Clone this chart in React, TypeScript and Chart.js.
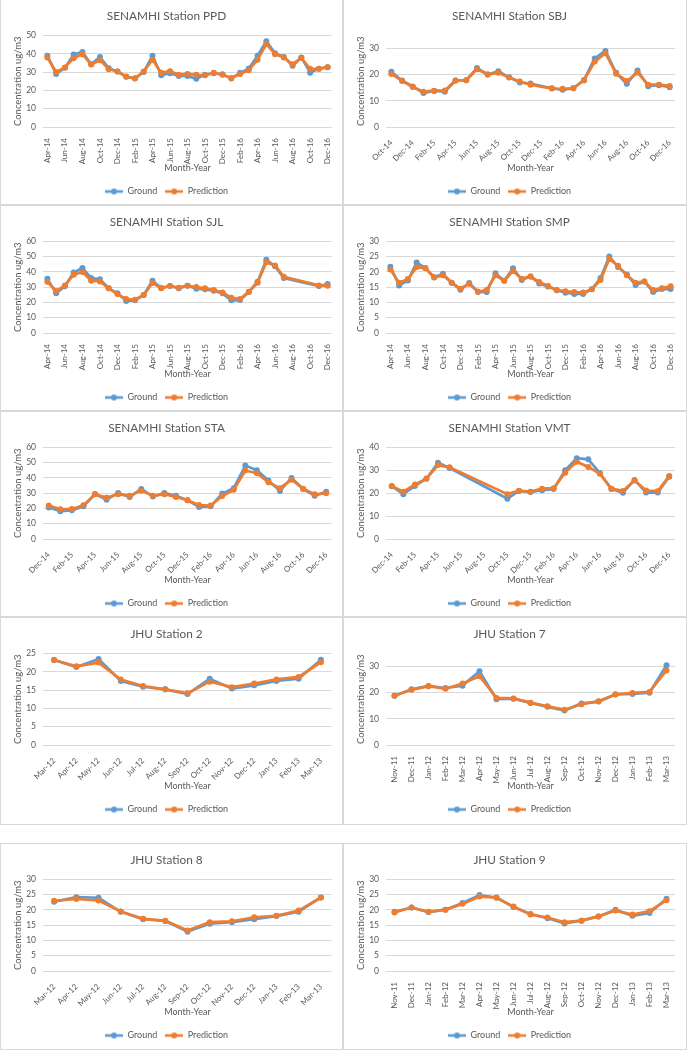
import React, { useEffect, useRef } from "react";
import { Chart, registerables } from "chart.js";

Chart.register(...registerables);

// ---------- tick labels ----------
const LABELS_APR14_DEC16 = [
  "Apr-14", "May-14", "Jun-14", "Jul-14", "Aug-14", "Sep-14", "Oct-14", "Nov-14", "Dec-14",
  "Jan-15", "Feb-15", "Mar-15", "Apr-15", "May-15", "Jun-15", "Jul-15", "Aug-15", "Sep-15",
  "Oct-15", "Nov-15", "Dec-15", "Jan-16", "Feb-16", "Mar-16", "Apr-16", "May-16", "Jun-16",
  "Jul-16", "Aug-16", "Sep-16", "Oct-16", "Nov-16", "Dec-16",
];
const LABELS_OCT14_DEC16 = [
  "Oct-14", "Nov-14", "Dec-14", "Jan-15", "Feb-15", "Mar-15", "Apr-15", "May-15", "Jun-15",
  "Jul-15", "Aug-15", "Sep-15", "Oct-15", "Nov-15", "Dec-15", "Jan-16", "Feb-16", "Mar-16",
  "Apr-16", "May-16", "Jun-16", "Jul-16", "Aug-16", "Sep-16", "Oct-16", "Nov-16", "Dec-16",
];
const LABELS_DEC14_DEC16 = [
  "Dec-14", "Jan-15", "Feb-15", "Mar-15", "Apr-15", "May-15", "Jun-15", "Jul-15", "Aug-15",
  "Sep-15", "Oct-15", "Nov-15", "Dec-15", "Jan-16", "Feb-16", "Mar-16", "Apr-16", "May-16",
  "Jun-16", "Jul-16", "Aug-16", "Sep-16", "Oct-16", "Nov-16", "Dec-16",
];
const LABELS_MAR12_MAR13 = [
  "Mar-12", "Apr-12", "May-12", "Jun-12", "Jul-12", "Aug-12", "Sep-12", "Oct-12", "Nov-12",
  "Dec-12", "Jan-13", "Feb-13", "Mar-13",
];
const LABELS_NOV11_MAR13 = [
  "Nov-11", "Dec-11", "Jan-12", "Feb-12", "Mar-12", "Apr-12", "May-12", "Jun-12", "Jul-12",
  "Aug-12", "Sep-12", "Oct-12", "Nov-12", "Dec-12", "Jan-13", "Feb-13", "Mar-13",
];

// ---------- series values ----------
const PPD_GROUND = [38.9, 29.0, 32.3, 39.6, 40.9, 34.3, 38.3, 32.1, 30.3, 27.4, 26.5, 30.1, 38.9, 28.3, 29.4, 27.9, 27.9, 26.3, 28.5, 29.4, 28.8, 26.5, 29.6, 31.9, 38.9, 46.9, 40.3, 38.3, 33.4, 38.0, 29.7, 31.8, 32.7];
const PPD_PRED = [38.0, 30.1, 32.5, 37.6, 39.8, 34.1, 36.5, 31.6, 30.3, 27.6, 26.6, 30.3, 36.7, 29.6, 30.5, 28.6, 29.0, 28.5, 28.3, 29.6, 28.5, 26.8, 29.0, 31.0, 36.7, 45.3, 39.8, 38.0, 34.3, 37.8, 31.8, 31.8, 32.7];

const SBJ_GROUND = [21.1, 17.8, 15.5, 13.0, 13.8, 13.5, 17.8, 17.9, 22.6, 20.1, 21.3, 19.0, 17.0, 16.6, null, 14.8, 14.2, 14.8, 18.0, 26.2, 29.1, 20.7, 16.5, 21.6, 15.6, 16.0, 15.2];
const SBJ_PRED = [20.3, 17.6, 15.3, 13.5, 13.9, 14.0, 17.8, 17.9, 22.1, 20.1, 20.7, 18.9, 17.4, 16.2, null, 14.7, 14.6, 14.8, 17.8, 25.0, 28.2, 20.4, 17.6, 20.8, 16.2, 16.2, 15.7];

const SJL_GROUND = [35.6, 26.0, 30.6, 39.7, 42.6, 36.0, 35.2, 29.3, 26.0, 21.0, 21.4, 24.9, 34.3, 29.5, 30.8, 29.3, 31.0, 29.0, 28.6, 27.7, 26.0, 21.4, 21.6, 26.9, 33.6, 48.0, 43.7, 36.0, null, null, null, 30.8, 32.1];
const SJL_PRED = [33.6, 27.5, 31.2, 38.2, 40.0, 34.3, 33.8, 29.3, 25.5, 22.3, 21.8, 24.9, 32.8, 29.3, 30.8, 29.7, 31.0, 30.1, 29.3, 28.2, 26.6, 23.1, 22.3, 27.1, 33.0, 46.3, 44.3, 36.9, null, null, null, 31.2, 31.0];

const SMP_GROUND = [21.7, 15.6, 17.2, 23.1, 21.3, 18.3, 19.4, 16.5, 14.2, 16.4, 13.5, 13.4, 19.6, 17.1, 21.2, 17.4, 18.5, 16.2, 15.2, 14.0, 13.2, 12.8, 12.8, 14.3, 18.0, 25.1, 21.6, 19.2, 15.7, 16.9, 13.4, 14.4, 14.4];
const SMP_PRED = [20.8, 16.5, 17.7, 21.6, 21.2, 18.2, 18.9, 16.5, 14.5, 16.1, 13.5, 14.1, 18.9, 17.1, 20.3, 17.8, 18.5, 16.7, 15.4, 14.1, 13.7, 13.4, 13.3, 14.3, 17.4, 24.3, 22.0, 18.9, 16.5, 16.9, 14.1, 14.7, 15.3];

const STA_GROUND = [20.6, 18.2, 18.8, 21.4, 29.5, 25.8, 30.2, 27.6, 32.8, 27.8, 30.2, 28.4, 25.4, 21.0, 21.4, 29.8, 33.3, 48.1, 45.1, 38.3, 31.5, 40.0, 32.8, 28.4, 30.9];
const STA_PRED = [21.9, 19.5, 19.7, 22.1, 29.3, 27.1, 29.3, 28.4, 31.7, 28.4, 29.3, 27.6, 25.4, 22.3, 21.9, 28.2, 32.2, 44.9, 43.1, 37.2, 33.3, 38.9, 33.0, 29.3, 30.0];

const VMT_GROUND = [23.1, 19.6, 23.2, 26.3, 33.3, 31.0, null, null, null, null, 17.6, 21.0, 20.5, 21.3, 21.8, 30.0, 35.3, 34.8, 28.8, 21.8, 20.2, 25.8, 20.3, 20.3, 27.2];
const VMT_PRED = [23.2, 20.7, 23.8, 26.4, 32.3, 31.3, null, null, null, null, 19.6, 21.1, 20.7, 22.0, 22.2, 29.0, 33.8, 31.5, 28.5, 22.0, 21.0, 25.6, 21.2, 20.9, 27.5];

const JHU2_GROUND = [23.2, 21.3, 23.5, 17.5, 15.9, 15.2, 13.9, 18.1, 15.4, 16.3, 17.5, 18.1, 23.3];
const JHU2_PRED = [23.2, 21.5, 22.5, 17.9, 16.1, 15.2, 14.1, 17.3, 15.8, 16.8, 17.9, 18.6, 22.6];

const JHU7_GROUND = [18.8, 21.3, 22.6, 21.8, 22.7, 28.2, 17.5, 17.7, 16.1, 14.6, 13.2, 15.9, 16.6, 19.3, 19.5, 20.0, 30.5];
const JHU7_PRED = [18.8, 21.1, 22.5, 21.5, 23.5, 26.3, 18.0, 17.8, 16.2, 14.8, 13.5, 15.6, 16.7, 19.4, 19.9, 20.3, 28.5];

const JHU8_GROUND = [22.7, 24.2, 24.0, 19.4, 17.0, 16.4, 12.9, 15.5, 16.0, 17.0, 18.0, 19.4, 24.1];
const JHU8_PRED = [23.0, 23.6, 23.1, 19.5, 17.1, 16.5, 13.3, 16.0, 16.3, 17.6, 18.1, 19.8, 24.1];

const JHU9_GROUND = [19.4, 20.8, 19.3, 20.1, 22.3, 24.9, 24.1, 21.0, 18.7, 17.3, 15.6, 16.5, 17.9, 20.1, 18.1, 19.0, 23.7];
const JHU9_PRED = [19.2, 20.8, 19.4, 20.1, 22.0, 24.4, 24.0, 21.1, 18.5, 17.5, 16.0, 16.5, 17.9, 19.8, 18.5, 19.6, 23.2];

// ---------- styling ----------
const BLUE = "#5B9BD5";
const ORANGE = "#ED7D31";
const TEXT = "#595959";
const GRID = "#D9D9D9";
const FONT = "Lato, 'Open Sans', sans-serif";

type Spec = {
  title: string;
  labels: string[];
  ground: (number | null)[];
  pred: (number | null)[];
  max: number;
  step: number;
  rotation: number;
  every: number;
  x: number;
  y: number;
  w: number;
  h: number;
};

const COL_X = [0, 343];
const COL_W = [343, 344];
const ROWS = [
  { y: -1, h: 206 },
  { y: 205, h: 206 },
  { y: 411, h: 206 },
  { y: 617, h: 208 },
  { y: 843, h: 207 },
];

function place(col: number, row: number) {
  return { x: COL_X[col], w: COL_W[col], y: ROWS[row].y, h: ROWS[row].h };
}

const PANELS: Spec[] = [
  { title: "SENAMHI Station PPD", labels: LABELS_APR14_DEC16, ground: PPD_GROUND, pred: PPD_PRED, max: 50, step: 10, rotation: 90, every: 2, ...place(0, 0) },
  { title: "SENAMHI Station SBJ", labels: LABELS_OCT14_DEC16, ground: SBJ_GROUND, pred: SBJ_PRED, max: 35, step: 5, rotation: 45, every: 2, ...place(1, 0) },
  { title: "SENAMHI Station SJL", labels: LABELS_APR14_DEC16, ground: SJL_GROUND, pred: SJL_PRED, max: 60, step: 10, rotation: 90, every: 2, ...place(0, 1) },
  { title: "SENAMHI Station SMP", labels: LABELS_APR14_DEC16, ground: SMP_GROUND, pred: SMP_PRED, max: 30, step: 5, rotation: 90, every: 2, ...place(1, 1) },
  { title: "SENAMHI Station STA", labels: LABELS_DEC14_DEC16, ground: STA_GROUND, pred: STA_PRED, max: 60, step: 10, rotation: 45, every: 2, ...place(0, 2) },
  { title: "SENAMHI Station VMT", labels: LABELS_DEC14_DEC16, ground: VMT_GROUND, pred: VMT_PRED, max: 40, step: 5, rotation: 45, every: 2, ...place(1, 2) },
  { title: "JHU Station 2", labels: LABELS_MAR12_MAR13, ground: JHU2_GROUND, pred: JHU2_PRED, max: 25, step: 5, rotation: 45, every: 1, ...place(0, 3) },
  { title: "JHU Station 7", labels: LABELS_NOV11_MAR13, ground: JHU7_GROUND, pred: JHU7_PRED, max: 35, step: 5, rotation: 90, every: 1, ...place(1, 3) },
  { title: "JHU Station 8", labels: LABELS_MAR12_MAR13, ground: JHU8_GROUND, pred: JHU8_PRED, max: 30, step: 5, rotation: 45, every: 1, ...place(0, 4) },
  { title: "JHU Station 9", labels: LABELS_NOV11_MAR13, ground: JHU9_GROUND, pred: JHU9_PRED, max: 30, step: 5, rotation: 90, every: 1, ...place(1, 4) },
];

const CANVAS_H = 206;

function legendIcon(color: string) {
  const c = document.createElement("canvas");
  c.width = 18;
  c.height = 8;
  const ctx = c.getContext("2d")!;
  ctx.strokeStyle = color;
  ctx.lineWidth = 2.6;
  ctx.beginPath();
  ctx.moveTo(0, 4);
  ctx.lineTo(18, 4);
  ctx.stroke();
  ctx.fillStyle = color;
  ctx.beginPath();
  ctx.arc(9, 4, 3, 0, Math.PI * 2);
  ctx.fill();
  return c;
}

function Panel({ spec }: { spec: Spec }) {
  const ref = useRef<HTMLCanvasElement>(null);
  const cw = spec.w - 2;
  useEffect(() => {
    if (!ref.current) return;
    const icons = [legendIcon(BLUE), legendIcon(ORANGE)];
    const common = {
      borderWidth: 2.7,
      pointRadius: 3,
      pointBorderWidth: 0,
      pointHoverRadius: 3,
      tension: 0,
      spanGaps: true,
    };
    const chart = new Chart(ref.current, {
      type: "line",
      data: {
        labels: spec.labels,
        datasets: [
          {
            label: "Ground",
            data: spec.ground,
            borderColor: BLUE,
            backgroundColor: BLUE,
            pointBackgroundColor: BLUE,
            pointBorderColor: BLUE,
            order: 1,
            ...common,
          },
          {
            label: "Prediction",
            data: spec.pred,
            borderColor: ORANGE,
            backgroundColor: ORANGE,
            pointBackgroundColor: ORANGE,
            pointBorderColor: ORANGE,
            order: 0,
            ...common,
          },
        ],
      },
      options: {
        animation: false,
        responsive: false,
        devicePixelRatio: 1,
        layout: { padding: { left: 0, right: cw - 331, top: 0, bottom: 0 } },
        plugins: {
          title: {
            display: true,
            text: spec.title,
            color: TEXT,
            font: { family: FONT, size: 11.8, weight: "normal" },
            padding: { top: 8.9, bottom: 12.4 },
          },
          legend: {
            position: "bottom",
            labels: {
              usePointStyle: true,
              pointStyleWidth: 18,
              padding: 8,
              color: TEXT,
              font: { family: FONT, size: 9 },
              generateLabels: (chart: any) => {
                const items = Chart.defaults.plugins.legend.labels.generateLabels(chart);
                return items
                  .sort((a: any, b: any) => a.datasetIndex - b.datasetIndex)
                  .map((it: any) => ({ ...it, pointStyle: icons[it.datasetIndex] }));
              },
            },
          },
          tooltip: { enabled: false },
        },
        scales: {
          x: {
            type: "category",
            offset: true,
            grid: { display: false },
            border: { display: false },
            ticks: {
              autoSkip: false,
              minRotation: spec.rotation,
              maxRotation: spec.rotation,
              padding: 3,
              color: TEXT,
              font: { family: FONT, size: 8 },
              callback: (_v: any, i: number) => (i % spec.every === 0 ? spec.labels[i] : ""),
            },
            title: {
              display: true,
              text: "Month-Year",
              color: TEXT,
              font: { family: FONT, size: 9 },
              padding: { top: 0, bottom: 5.6 },
            },
            afterFit: (s: any) => {
              s.height = 52;
            },
          },
          y: {
            min: 0,
            max: spec.max,
            ticks: {
              stepSize: spec.step,
              color: TEXT,
              font: { family: FONT, size: 8.5 },
              padding: 7,
            },
            grid: { color: GRID, drawTicks: false, lineWidth: 1 },
            border: { display: false },
            title: {
              display: true,
              text: "Concentration ug/m3",
              color: TEXT,
              font: { family: FONT, size: 9.5 },
              padding: { top: 11.3, bottom: 0 },
            },
            afterFit: (s: any) => {
              s.width = 42;
            },
          },
        },
      } as any,
    });
    return () => chart.destroy();
  }, []);
  return (
    <div
      style={{
        position: "absolute",
        left: spec.x,
        top: spec.y,
        width: spec.w,
        height: spec.h,
        border: `1px solid ${GRID}`,
        boxSizing: "border-box",
        overflow: "hidden",
        background: "#fff",
      }}
    >
      <canvas
        ref={ref}
        width={cw}
        height={CANVAS_H}
        style={{ display: "block", width: cw, height: CANVAS_H }}
      />
    </div>
  );
}

export default function App() {
  return (
    <div
      style={{
        position: "absolute",
        left: 0,
        top: 0,
        width: 687,
        height: 1050,
        background: "#fff",
        overflow: "hidden",
      }}
    >
      {PANELS.map((p) => (
        <Panel key={p.title} spec={p} />
      ))}
    </div>
  );
}
